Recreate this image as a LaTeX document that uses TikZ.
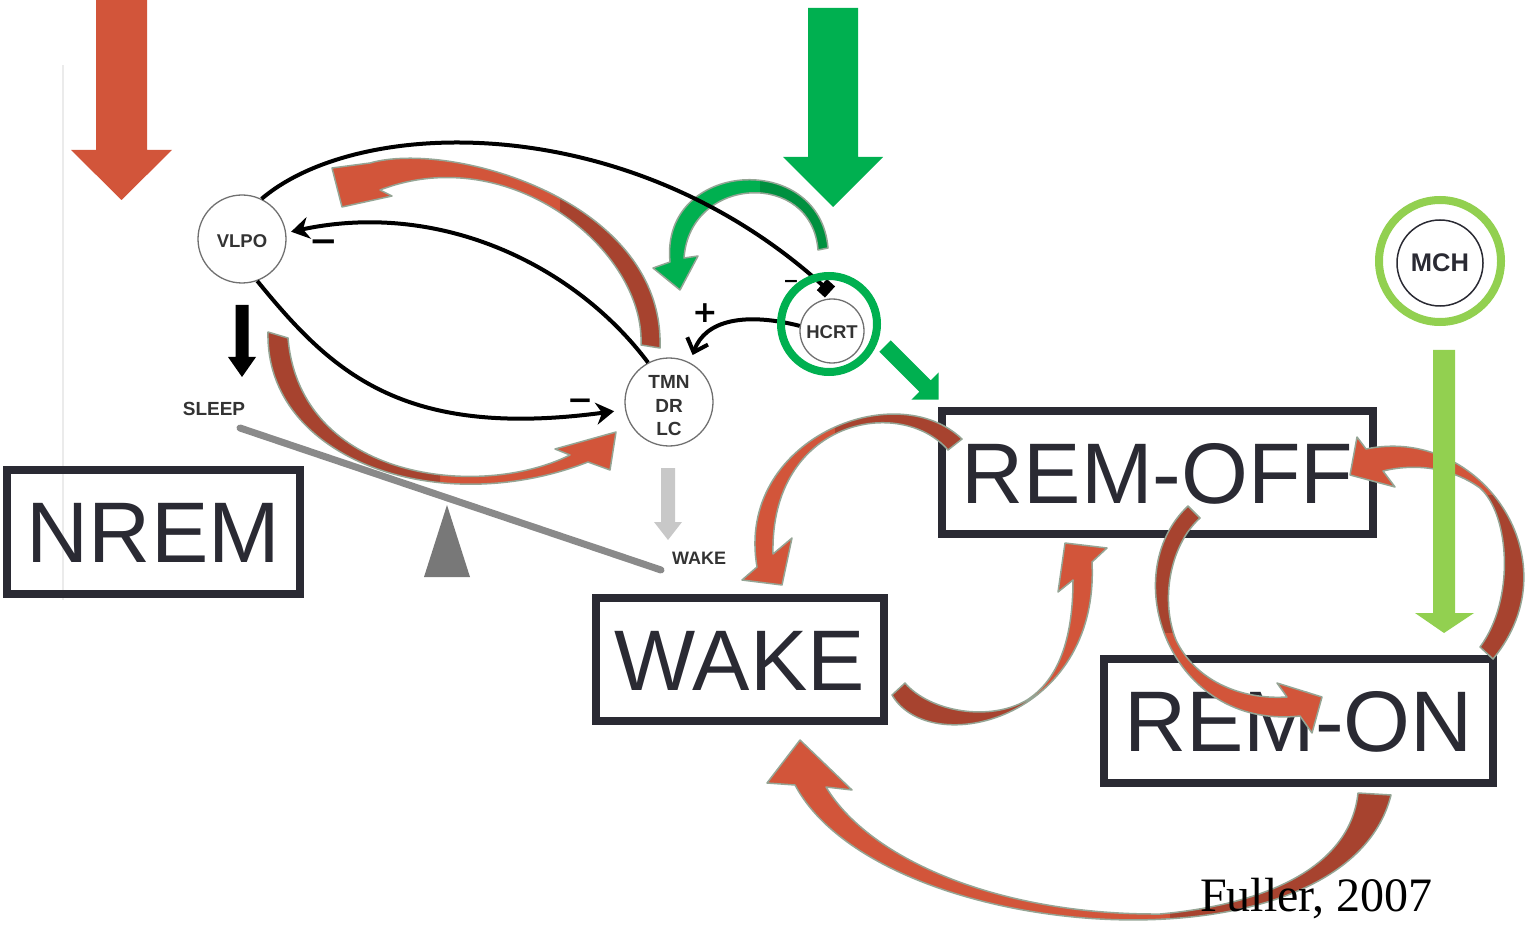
\documentclass[tikz,border=0pt]{standalone}
\usepackage{fontspec}
\setmainfont{Liberation Sans}
\newfontfamily\citefont{Liberation Serif}
\newfontfamily\signfont{DejaVu Sans}
\usetikzlibrary{arrows.meta}

\definecolor{redlight}{HTML}{D2553A}
\definecolor{reddark}{HTML}{A7432F}
\definecolor{greenmain}{HTML}{00B050}
\definecolor{greendark}{HTML}{00903F}
\definecolor{greenlight}{HTML}{92D050}
\definecolor{bandline}{HTML}{95A595}
\definecolor{ink}{HTML}{2A2A33}
\definecolor{nucline}{HTML}{707070}
\definecolor{nuctext}{HTML}{333333}
\definecolor{beamgray}{HTML}{8A8A8A}
\definecolor{pivotgray}{HTML}{787878}
\definecolor{wakegray}{HTML}{C8C8C8}
\definecolor{faintgray}{HTML}{EBEBEB}

% ribbon-like curved arrow: #1 outline path, #2 clip region of the dark part,
% #3 front colour, #4 back colour
\newcommand\bandarrow[4]{%
  \fill[#3] #1;
  \begin{scope}\clip #2;\fill[#4] #1;\end{scope}
  \draw[bandedge] #1;
}

\tikzset{
  statebox/.style={draw=ink, line width=8pt, inner sep=0pt, text=ink,
    font=\fontsize{86}{90}\selectfont, text height=61.6pt, text depth=0pt},
  nucleus/.style={circle, draw=nucline, line width=1.3pt, fill=white, inner sep=0pt,
    text=nuctext, font=\bfseries\fontsize{18.5}{23.5}\selectfont, align=center},
  smalllabel/.style={text=nuctext, font=\bfseries\fontsize{19}{22}\selectfont,
    inner sep=0pt, text height=13.6pt, text depth=0pt},
  wire/.style={line width=4pt, draw=black},
  bandedge/.style={draw=bandline, line width=1.5pt, line join=round},
  sign/.style={font=\signfont\bfseries\fontsize{#1}{#1}\selectfont, inner sep=0pt, text=black},
}

\begin{document}
\begin{tikzpicture}[x=1pt,y=-1pt]
\clip (0,0) rectangle (1532,925);

% faint rule on the left
\draw[faintgray, line width=2.5pt] (63,65) -- (63,600);

% large block arrows
\fill[redlight] (96,-2) -- (147,-2) -- (147,150) -- (172,150) -- (121.5,200) -- (71,150) -- (96,150) -- cycle;
\fill[greenmain] (808,8) -- (858,8) -- (858,157) -- (883,157) -- (833,207) -- (783,157) -- (808,157) -- cycle;

% see-saw
\fill[pivotgray] (424,577) -- (447,505) -- (470,577) -- cycle;
\draw[beamgray, line width=7pt, line cap=round] (240,428) -- (661,570);

% nuclei
\node[nucleus, minimum size=88pt] (vlpo) at (242,239) {};
\node[nucleus, minimum size=88pt] (tmn) at (669,402) {};
\node[nucleus, minimum size=64pt] (hcrt) at (832,331) {};
\node[nucleus, fill=none, draw=none] (vlpotext) at (242,241) {VLPO};
\node[nucleus, fill=none, draw=none, font=\bfseries\fontsize{19}{23.5}\selectfont] (tmntext) at (669,406) {TMN\\DR\\LC};
\node[nucleus, fill=none, draw=none] (hcrttext) at (832,332) {HCRT};

% green curved arrow HCRT -> TMN
\bandarrow{(670,262) .. controls (660,160) and (820,150) .. (828,248) -- (818,250) .. controls (812,170) and (690,175) .. (684,258) -- (698,256) -- (680,290) -- (653,268) -- cycle}{(760,100) rectangle (900,300)}{greenmain}{greendark}

% projections
\coordinate (hbar) at (830,292);
\draw[wire, -{Rectangle[length=11pt,width=15pt]}] (vlpo.64) .. controls (360,115) and (630,110) .. (hbar);
\draw[wire, -{Stealth[length=18pt,width=22pt]}, shorten >=5pt] (tmn.118) .. controls (575,265) and (440,200) .. (vlpo.8);
\draw[wire, -{Stealth[length=18pt,width=22pt]}, shorten >=11pt] (vlpo.-70) .. controls (330,370) and (400,440) .. (tmn.190);
\draw[wire, -{Straight Barb[length=12pt,width=22pt]}, shorten >=8pt] (hcrt.171) .. controls (745,312) and (705,320) .. (tmn.62);

% ring round HCRT
\node[circle, draw=greenmain, line width=8pt, minimum size=96pt, inner sep=0pt] (hcrtring) at (829,324) {};

% sleep / wake outputs
\fill[black] (235.5,305) -- (248.5,305) -- (248.5,357) -- (256,357) -- (242,377) -- (228,357) -- (235.5,357) -- cycle;
\fill[wakegray] (661,468) -- (675,468) -- (675,522) -- (682,522) -- (668,540) -- (654,522) -- (661,522) -- cycle;
\node[smalllabel] (sleeplbl) at (214,408.5) {SLEEP};
\node[smalllabel, font=\bfseries\fontsize{18}{22}\selectfont, text height=12.9pt] (wakelbl) at (699,558) {WAKE};

% signs
\node[sign=34] (minusa) at (324,246) {−};
\node[sign=31] (minusb) at (580,405) {−};
\node[sign=19] (minusc) at (791,284) {−};
\node[sign=30] (plus) at (705,313) {+};

% red curved arrows between the nuclei
\bandarrow{(660,348) .. controls (665,200) and (450,140) .. (370,163) -- (332,168) -- (342,207) -- (392,196) -- (380,190) .. controls (510,140) and (645,250) .. (641,345) -- cycle}{(560,100) rectangle (720,420)}{redlight}{reddark}
\bandarrow{(268,332) .. controls (265,460) and (440,520) .. (588,462) -- (610,470) -- (616,432) -- (555,449) -- (570,455) .. controls (480,500) and (300,480) .. (288,338) -- cycle}{(200,300) rectangle (440,520)}{redlight}{reddark}

% states
\node[statebox, minimum width=293pt, minimum height=124pt] (nrem) at (153.5,532) {NREM};
\node[statebox, minimum width=288pt, minimum height=123pt] (wake) at (740,659.5) {WAKE};
\node[statebox, minimum width=431pt, minimum height=123pt] (remoff) at (1157.5,472.5) {REM-OFF};
\node[statebox, minimum width=389pt, minimum height=124pt] (remon) at (1298.5,721) {REM-ON};

% transitions between the states
\bandarrow{(962,439) .. controls (895,375) and (735,440) .. (757,567) -- (742,580) -- (782,585) -- (792,538) -- (773,554) .. controls (770,420) and (900,395) .. (948,450) -- cycle}{(835,370) rectangle (1000,470)}{redlight}{reddark}
\bandarrow{(892,695) .. controls (930,760) and (1100,720) .. (1092,562) -- (1107,548) -- (1065,543) -- (1058,592) -- (1073,580) .. controls (1073,640) and (1058,680) .. (1027,700) .. controls (990,722) and (930,712) .. (905,683) -- cycle}{(850,600) rectangle (1027,760)}{redlight}{reddark}
\bandarrow{(1188,506) .. controls (1115,575) and (1170,730) .. (1300,716) -- (1312,733) -- (1322,697) -- (1277,683) -- (1287,697) .. controls (1240,700) and (1195,680) .. (1176,640) .. controls (1160,600) and (1170,545) .. (1200,518) -- cycle}{(1100,490) rectangle (1260,632)}{redlight}{reddark}
\bandarrow{(1493,659) .. controls (1575,560) and (1480,425) .. (1366,449) -- (1357,437) -- (1350,475) -- (1395,487) -- (1383,471) .. controls (1420,462) and (1455,470) .. (1480,488) .. controls (1510,515) and (1515,600) .. (1480,647) -- cycle}{(1440,495) rectangle (1540,680)}{redlight}{reddark}
\bandarrow{(1391,795) .. controls (1345,980) and (880,945) .. (795,785) -- (767,783) -- (800,740) -- (852,790) -- (826,787) .. controls (870,860) and (1000,915) .. (1160,914) .. controls (1260,905) and (1350,870) .. (1358,793) -- cycle}{(1170,760) rectangle (1420,925)}{redlight}{reddark}

% HCRT -> REM-OFF
\fill[greenmain] (890.7,340.3) -- (930.7,380.3) -- (938.7,372.3) -- (938.7,399.7) -- (911.3,399.7) -- (919.3,391.7) -- (879.3,351.7) -- cycle;

% MCH and its projection to REM-ON
\node[circle, draw=greenlight, line width=8pt, minimum size=122pt, inner sep=0pt] (mchring) at (1440,261) {};
\node[circle, draw=ink, line width=1.5pt, minimum size=86pt, inner sep=0pt, text=ink,
  font=\bfseries\fontsize{25.5}{28}\selectfont] (mch) at (1440,263) {MCH};
\fill[greenlight] (1433,350) -- (1455,350) -- (1455,613) -- (1474,613) -- (1444,633) -- (1415,613) -- (1433,613) -- cycle;

% reference
\node[font=\citefont\fontsize{48}{48}\selectfont, anchor=base west, inner sep=0pt] (cite) at (1200,911) {Fuller, 2007};
\end{tikzpicture}
\end{document}
